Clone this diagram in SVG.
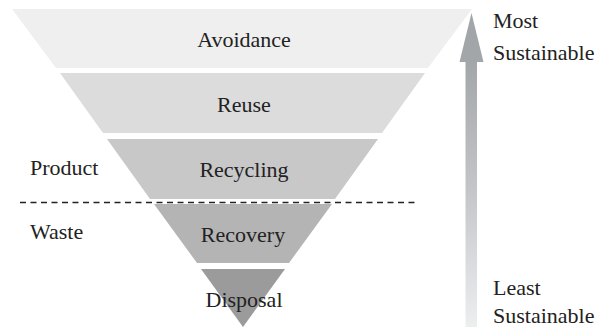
<svg xmlns="http://www.w3.org/2000/svg" width="603" height="327" viewBox="0 0 603 327">
<style>
text{font-family:"Liberation Serif","Times New Roman",serif;font-size:22px;fill:#222}
.c{text-anchor:middle}
</style>
<defs>
<linearGradient id="ag" x1="0" y1="0" x2="0" y2="1">
<stop offset="0" stop-color="#a3a6a9"/>
<stop offset="0.5" stop-color="#c4c6c9"/>
<stop offset="1" stop-color="#eceef0"/>
</linearGradient>
</defs>
<rect width="603" height="327" fill="#fff"/>
<g id="avoidance">
<polygon points="12,9 472,9 428,68 56,68" fill="#efefef"/>
<text class="c" x="244" y="47">Avoidance</text>
</g>
<g id="reuse">
<polygon points="60,73 425,73 382,133 103,133" fill="#dcdcdd"/>
<text class="c" x="244" y="112">Reuse</text>
</g>
<g id="recycling">
<polygon points="107,139 378,139 335,199 150,199" fill="#c8c8c9"/>
<text class="c" x="244" y="177">Recycling</text>
</g>
<g id="recovery">
<polygon points="154,204 332,204 289,263 197,263" fill="#b4b4b5"/>
<text class="c" x="243" y="242">Recovery</text>
</g>
<g id="disposal">
<polygon points="201,269 285,269 243,327" fill="#9b9b9c"/>
<text class="c" x="244" y="307">Disposal</text>
</g>
<g id="connectors">
<line x1="20" y1="202.5" x2="415" y2="202.5" stroke="#222" stroke-width="1.6" stroke-dasharray="6 4.5"/>
<rect x="465.5" y="60" width="11.5" height="267" fill="url(#ag)"/>
<polygon points="471.5,13 483.5,62 459.5,62" fill="#a3a6a9"/>
</g>
<g id="labels">
<text x="30" y="175">Product</text>
<text x="30" y="239">Waste</text>
<text x="493" y="28">Most</text>
<text x="493" y="60">Sustainable</text>
<text x="493" y="295">Least</text>
<text x="493" y="323">Sustainable</text>
</g>
</svg>
